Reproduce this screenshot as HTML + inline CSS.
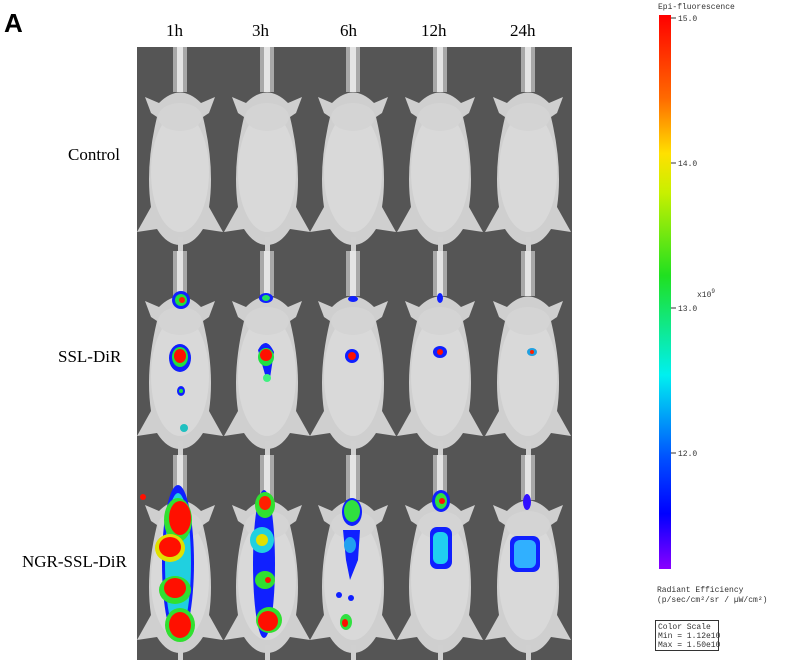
<!DOCTYPE html>
<html><head><style>
body{margin:0;background:#fff;}
svg{display:block}
.t{font-family:"Liberation Serif",serif;font-size:17px;fill:#000}
.m{font-family:"Liberation Mono",monospace;font-size:8px;fill:#333}
</style></head><body>
<svg width="800" height="671" viewBox="0 0 800 671" xmlns="http://www.w3.org/2000/svg">
<defs>
<linearGradient id="cb" x1="0" y1="0" x2="0" y2="1">
<stop offset="0" stop-color="#ff0000"/><stop offset="0.15" stop-color="#ff6a00"/><stop offset="0.25" stop-color="#ffe000"/><stop offset="0.32" stop-color="#c8f000"/><stop offset="0.47" stop-color="#20e020"/><stop offset="0.65" stop-color="#00f0f0"/><stop offset="0.8" stop-color="#0050ff"/><stop offset="0.9" stop-color="#0000ff"/><stop offset="1" stop-color="#8a00ff"/>
</linearGradient>
<g id="mouse">
<rect x="36" y="0" width="14" height="45" fill="#a8a8a8"/>
<rect x="40" y="0" width="6" height="45" fill="#e4e4e4"/>
<path d="M8 50 L22 56 Q43 35 64 56 L78 50 L72 66 L66 70 Q78 120 72 160 L86 185 L66 182 Q56 198 43 198 Q30 198 20 182 L0 185 L14 160 Q8 120 20 70 L14 66 Z" fill="#cfcfcf"/>
<ellipse cx="43" cy="125" rx="29" ry="60" fill="#d9d9d9"/>
<ellipse cx="43" cy="70" rx="22" ry="14" fill="#d4d4d4"/>
<rect x="41" y="190" width="5" height="15" fill="#d0d0d0"/>
</g>
</defs>
<text x="4" y="32" font-family="Liberation Sans,sans-serif" font-weight="bold" font-size="26">A</text>
<text class="t" x="166" y="36">1h</text>
<text class="t" x="252" y="36">3h</text>
<text class="t" x="340" y="36">6h</text>
<text class="t" x="421" y="36">12h</text>
<text class="t" x="510" y="36">24h</text>
<text class="t" x="68" y="160">Control</text>
<text class="t" x="58" y="362">SSL-DiR</text>
<text class="t" x="22" y="567">NGR-SSL-DiR</text>
<rect x="137" y="47" width="435" height="613" fill="#555"/>
<g>
<use href="#mouse" x="137" y="47"/><use href="#mouse" x="224" y="47"/><use href="#mouse" x="310" y="47"/><use href="#mouse" x="397" y="47"/><use href="#mouse" x="485" y="47"/>
<use href="#mouse" x="137" y="251"/><use href="#mouse" x="224" y="251"/><use href="#mouse" x="310" y="251"/><use href="#mouse" x="397" y="251"/><use href="#mouse" x="485" y="251"/>
<use href="#mouse" x="137" y="455"/><use href="#mouse" x="224" y="455"/><use href="#mouse" x="310" y="455"/><use href="#mouse" x="397" y="455"/><use href="#mouse" x="485" y="455"/>
</g>
<!-- row 2 blobs -->
<g>
<ellipse cx="181" cy="300" rx="9" ry="9" fill="#1020ff"/><ellipse cx="181" cy="300" rx="6" ry="6" fill="#20e040"/><ellipse cx="182" cy="300" rx="3" ry="3" fill="#ff2000"/>
<ellipse cx="180" cy="358" rx="11" ry="14" fill="#1020ff"/><ellipse cx="180" cy="357" rx="8" ry="10" fill="#20e040"/><ellipse cx="180" cy="356" rx="6" ry="7" fill="#ff1000"/>
<ellipse cx="181" cy="391" rx="4" ry="5" fill="#1020ff"/><ellipse cx="181" cy="391" rx="2" ry="2" fill="#20e040"/>
<ellipse cx="184" cy="428" rx="4" ry="4" fill="#20c0c0"/>
<ellipse cx="266" cy="298" rx="7" ry="5" fill="#1020ff"/><ellipse cx="266" cy="298" rx="4" ry="3" fill="#20e060"/>
<path d="M258 350 Q266 335 274 352 L270 378 L266 378 Z" fill="#1020ff"/>
<ellipse cx="266" cy="357" rx="8" ry="9" fill="#20e040"/><ellipse cx="266" cy="355" rx="6" ry="6" fill="#ff1000"/>
<ellipse cx="267" cy="378" rx="4" ry="4" fill="#40f080"/>
<ellipse cx="352" cy="356" rx="7" ry="7" fill="#1020ff"/><ellipse cx="352" cy="356" rx="4" ry="4" fill="#ff1000"/>
<ellipse cx="440" cy="352" rx="7" ry="6" fill="#1020ff"/><ellipse cx="440" cy="352" rx="3" ry="3" fill="#ff1000"/>
<ellipse cx="532" cy="352" rx="5" ry="4" fill="#20a0e0"/><ellipse cx="532" cy="352" rx="2" ry="2" fill="#ff2000"/>
<ellipse cx="353" cy="299" rx="5" ry="3" fill="#1020ff"/><ellipse cx="440" cy="298" rx="3" ry="5" fill="#1020ff"/>
</g>
<!-- row 3 blobs -->
<g>
<ellipse cx="178" cy="563" rx="16" ry="78" fill="#1020ff"/>
<ellipse cx="178" cy="563" rx="13" ry="70" fill="#20d0e0"/>
<ellipse cx="178" cy="520" rx="14" ry="22" fill="#30e030"/><ellipse cx="180" cy="518" rx="11" ry="17" fill="#ff1000"/>
<ellipse cx="170" cy="548" rx="15" ry="14" fill="#e0e000"/><ellipse cx="170" cy="547" rx="11" ry="10" fill="#ff1000"/>
<ellipse cx="175" cy="590" rx="16" ry="14" fill="#30e030"/><ellipse cx="175" cy="588" rx="11" ry="10" fill="#ff1000"/>
<ellipse cx="180" cy="625" rx="15" ry="17" fill="#30e030"/><ellipse cx="180" cy="625" rx="11" ry="13" fill="#ff1000"/>
<ellipse cx="143" cy="497" rx="3" ry="3" fill="#ff1000"/>
<ellipse cx="264" cy="564" rx="11" ry="74" fill="#1020ff"/>
<ellipse cx="265" cy="505" rx="10" ry="13" fill="#30e030"/><ellipse cx="265" cy="503" rx="6" ry="7" fill="#ff2000"/>
<ellipse cx="262" cy="540" rx="12" ry="13" fill="#20d0e0"/><ellipse cx="262" cy="540" rx="6" ry="6" fill="#e0e000"/>
<ellipse cx="265" cy="580" rx="10" ry="9" fill="#30e030"/><ellipse cx="268" cy="580" rx="3" ry="3" fill="#ff1000"/>
<ellipse cx="269" cy="620" rx="13" ry="13" fill="#30e030"/><ellipse cx="268" cy="621" rx="10" ry="10" fill="#ff1000"/>
<ellipse cx="352" cy="512" rx="10" ry="14" fill="#1020ff"/><ellipse cx="352" cy="511" rx="8" ry="11" fill="#30e040"/>
<path d="M343 530 L360 530 L358 560 L350 580 L346 560 Z" fill="#1020ff"/><ellipse cx="350" cy="545" rx="6" ry="8" fill="#20a0f0"/>
<ellipse cx="346" cy="622" rx="6" ry="8" fill="#30e040"/><ellipse cx="345" cy="623" rx="3" ry="4" fill="#ff1000"/>
<ellipse cx="339" cy="595" rx="3" ry="3" fill="#1020ff"/><ellipse cx="351" cy="598" rx="3" ry="3" fill="#1020ff"/>
<ellipse cx="441" cy="501" rx="9" ry="11" fill="#1020ff"/><ellipse cx="441" cy="501" rx="6" ry="8" fill="#30e040"/><ellipse cx="442" cy="501" rx="3" ry="3" fill="#ff1000"/>
<rect x="430" y="527" width="22" height="42" rx="7" fill="#1020ff"/><rect x="433" y="532" width="15" height="32" rx="6" fill="#20d0f0"/>
<rect x="510" y="536" width="30" height="36" rx="7" fill="#1020ff"/><rect x="514" y="540" width="22" height="28" rx="6" fill="#30b0ff"/>
<ellipse cx="527" cy="502" rx="4" ry="8" fill="#3010ff"/>
</g>
<!-- colorbar -->
<text class="m" x="658" y="9">Epi-fluorescence</text>
<rect x="659" y="15" width="12" height="554" fill="url(#cb)"/>
<g stroke="#333" stroke-width="1">
<line x1="671" y1="18" x2="676" y2="18"/><line x1="671" y1="163" x2="676" y2="163"/><line x1="671" y1="308" x2="676" y2="308"/><line x1="671" y1="453" x2="676" y2="453"/>
</g>
<text class="m" x="678" y="21">15.0</text>
<text class="m" x="678" y="166">14.0</text>
<text class="m" x="678" y="311">13.0</text>
<text class="m" x="678" y="456">12.0</text>
<text class="m" x="697" y="297">x10<tspan dy="-4" font-size="6">9</tspan></text>
<text class="m" x="657" y="592">Radiant Efficiency</text>
<text class="m" x="657" y="602" font-size="7">(p/sec/cm²/sr / µW/cm²)</text>
<rect x="655.5" y="620.5" width="63" height="30" fill="none" stroke="#333"/>
<text class="m" x="658" y="629">Color Scale</text>
<text class="m" x="658" y="638">Min = 1.12e10</text>
<text class="m" x="658" y="647">Max = 1.50e10</text>
</svg>
</body></html>
